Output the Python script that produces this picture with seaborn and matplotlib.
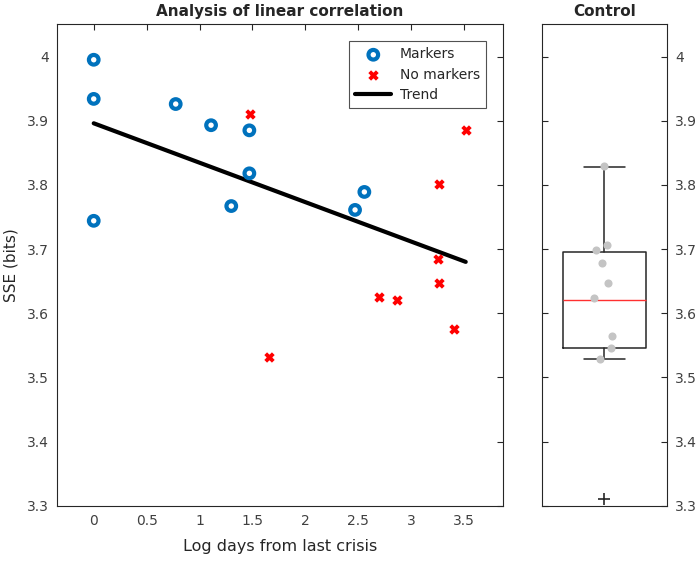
import numpy as np
import pandas as pd
import matplotlib as mpl
mpl.use("Agg")
import matplotlib.pyplot as plt
from matplotlib.ticker import FuncFormatter, MultipleLocator
import seaborn as sns

# data
markers_x = [0.0, 0.0, 0.0, 0.775, 1.109, 1.471, 1.471, 1.30, 2.558, 2.470]
markers_y = [3.995, 3.934, 3.744, 3.926, 3.893, 3.885, 3.818, 3.767, 3.789, 3.761]

nomarkers_x = [1.477, 3.516, 3.264, 3.251, 3.267, 2.70, 2.864, 3.405, 1.657]
nomarkers_y = [3.910, 3.885, 3.802, 3.685, 3.647, 3.625, 3.620, 3.576, 3.532]

trend_x = [0.0, 3.516]
trend_y = [3.896, 3.680]

# control group: points shown over the box, plus the box statistics
control_y = [3.830, 3.707, 3.698, 3.679, 3.647, 3.623, 3.565, 3.546, 3.529]
control_jitter = [-0.004, 0.023, -0.071, -0.017, 0.031, -0.084, 0.063, 0.049, -0.036]
control_stats = dict(med=3.621, q1=3.546, q3=3.695, whislo=3.529, whishi=3.828,
                     fliers=[3.310])

sns.set_style("white")
plt.rcParams['font.family'] = ['DejaVu Sans']
plt.rcParams['axes.edgecolor'] = '#262626'
plt.rcParams['axes.linewidth'] = 0.8

fig = plt.figure(figsize=(7, 5.64), dpi=100)
ax = fig.add_axes([0.0819, 0.1034, 0.6363, 0.8532])
ax2 = fig.add_axes([0.7747, 0.1034, 0.1777, 0.8532])

blue = '#0072BD'
sns.scatterplot(x=markers_x, y=markers_y, ax=ax, marker='o', s=48,
                facecolors='none', edgecolors=blue, linewidth=3.0,
                label='Markers', zorder=3)
sns.scatterplot(x=nomarkers_x, y=nomarkers_y, ax=ax, marker='x', s=30,
                color='#FF0000', linewidth=2.8, label='No markers', zorder=3)
sns.lineplot(x=trend_x, y=trend_y, ax=ax, color='black', linewidth=3,
             label='Trend', zorder=2)

fmt = FuncFormatter(lambda v, p: f"{v:g}")

ax.set_xlim(-0.344, 3.866)
ax.set_ylim(3.3, 4.05)
ax.xaxis.set_major_locator(MultipleLocator(0.5))
ax.yaxis.set_major_locator(MultipleLocator(0.1))
ax.xaxis.set_major_formatter(fmt)
ax.yaxis.set_major_formatter(fmt)
ax.tick_params(direction='in', length=4, width=0.8, top=True, right=True,
               labelsize=10, labelcolor='#404040', color='#262626', pad=6)
ax.set_xlabel('Log days from last crisis', fontsize=11.5, color='#262626',
              labelpad=8)
ax.set_ylabel('SSE (bits)', fontsize=11, color='#262626', labelpad=6)
ax.set_title('Analysis of linear correlation', fontsize=11, fontweight='bold', pad=6)

leg = ax.legend(loc='upper right', fontsize=10, frameon=True, fancybox=False,
                edgecolor='#262626', borderaxespad=1.2, handlelength=2.6,
                labelspacing=0.45, borderpad=0.45, handletextpad=0.6)
leg.get_frame().set_linewidth(0.8)

# control box
stats = dict(control_stats)
stats['mean'] = np.nan
ax2.bxp([stats], positions=[1], widths=0.66, showfliers=True, capwidths=0.33,
        boxprops=dict(color='#262626', linewidth=1.1),
        whiskerprops=dict(color='#262626', linewidth=1.1, linestyle='-'),
        capprops=dict(color='#262626', linewidth=1.1),
        medianprops=dict(color='#FF3030', linewidth=1.0),
        flierprops=dict(marker='+', markersize=9, markeredgecolor='#262626',
                        markeredgewidth=1.2))
ctrl = pd.DataFrame({'x': 1 + np.array(control_jitter), 'y': control_y})
sns.scatterplot(data=ctrl, x='x', y='y', ax=ax2, color='#C4C4C4', s=34,
                linewidth=0, zorder=3)

ax2.set_xlim(0.5, 1.5)
ax2.set_ylim(3.3, 4.05)
ax2.yaxis.set_major_locator(MultipleLocator(0.1))
ax2.yaxis.set_major_formatter(fmt)
ax2.set_xticks([])
ax2.set_xlabel('')
ax2.set_ylabel('')
ax2.tick_params(axis='y', direction='in', length=4, width=0.8, left=True,
                right=True, labelleft=False, labelright=True, labelsize=10,
                labelcolor='#404040', color='#262626', pad=6)
ax2.set_title('Control', fontsize=11, fontweight='bold', pad=6)

fig.savefig('out.png', dpi=100)
